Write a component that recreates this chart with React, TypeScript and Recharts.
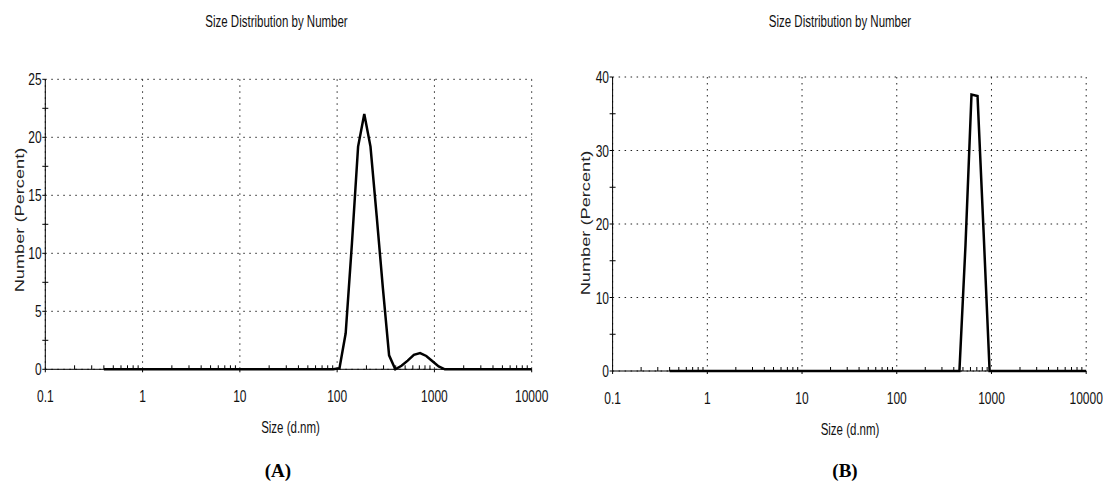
import React from "react";
import { LineChart, Line, XAxis, YAxis, CartesianGrid } from "recharts";

// size bins (d.nm), shared by both measurements
const sizes = [
  0.4, 0.4632, 0.5365, 0.6213, 0.7195, 0.8332, 0.9649, 1.117, 1.294, 1.499,
  1.736, 2.01, 2.328, 2.696, 3.122, 3.615, 4.187, 4.849, 5.615, 6.503,
  7.531, 8.721, 10.1, 11.7, 13.54, 15.69, 18.17, 21.04, 24.36, 28.21,
  32.67, 37.84, 43.82, 50.75, 58.77, 68.06, 78.82, 91.28, 105.7, 122.4,
  141.8, 164.2, 190.1, 220.2, 255.0, 295.3, 342.0, 396.1, 458.7, 531.2,
  615.1, 712.4, 825.0, 955.4, 1106, 1281, 1484, 1718, 1990, 2305,
  2669, 3091, 3580, 4145, 4801, 5560, 6439, 7456, 8635, 10000,
];

// Number (Percent), sample A
const numberA = [
  0, 0, 0, 0, 0, 0, 0, 0, 0, 0,
  0, 0, 0, 0, 0, 0, 0, 0, 0, 0,
  0, 0, 0, 0, 0, 0, 0, 0, 0, 0,
  0, 0, 0, 0, 0, 0, 0, 0, 0.1, 3.1,
  10.8, 19.2, 22.0, 19.2, 13.2, 7.0, 1.2, 0, 0.3, 0.75,
  1.25, 1.4, 1.15, 0.7, 0.25, 0, 0, 0, 0, 0,
  0, 0, 0, 0, 0, 0, 0, 0, 0, 0,
];

// Number (Percent), sample B
const numberB = [
  0, 0, 0, 0, 0, 0, 0, 0, 0, 0,
  0, 0, 0, 0, 0, 0, 0, 0, 0, 0,
  0, 0, 0, 0, 0, 0, 0, 0, 0, 0,
  0, 0, 0, 0, 0, 0, 0, 0, 0, 0,
  0, 0, 0, 0, 0, 0, 0, 0, 0, 17,
  37.6, 37.4, 19, 0, 0, 0, 0, 0, 0, 0,
  0, 0, 0, 0, 0, 0, 0, 0, 0, 0,
];

const xTicks = [0.1, 1, 10, 100, 1000, 10000];
const minorSteps = [2, 3, 4, 5, 6, 7, 8, 9];
const xMinor = xTicks.slice(0, -1).flatMap((d) => minorSteps.map((m) => +(d * m).toPrecision(3)));
const xAll = [...xTicks, ...xMinor].sort((a, b) => a - b);

const yTicksA = [0, 5, 10, 15, 20, 25];
const yMinorA = [2.5, 7.5, 12.5, 17.5, 22.5];
const yTicksB = [0, 10, 20, 30, 40];
const yMinorB = [5, 15, 25, 35];

const FONT = "'Liberation Sans', Arial, sans-serif";
const STRETCH = 1.42; // the source graphs are stretched vertically

const dataA = sizes.map((s, i) => ({ size: s, value: numberA[i] }));
const dataB = sizes.map((s, i) => ({ size: s, value: numberB[i] }));

function XTick({ x, y, payload }: any) {
  const major = xTicks.includes(payload.value);
  if (!major) {
    return <line x1={x} x2={x} y1={y} y2={y - 4} stroke="#000" strokeWidth={1} />;
  }
  return (
    <g>
      <line x1={x} x2={x} y1={y} y2={y + 3} stroke="#000" strokeWidth={1} />
      <g transform={`translate(${x},${y + 33})`}>
        <text textAnchor="middle" transform={`scale(1,${STRETCH})`} fontSize={12} fill="#111" fontFamily={FONT}>
          {payload.value}
        </text>
      </g>
    </g>
  );
}

function makeYTick(majors: number[]) {
  return function YTick({ x, y, payload }: any) {
    if (!majors.includes(payload.value)) {
      return <line x1={x - 3} x2={x + 3} y1={y} y2={y} stroke="#000" strokeWidth={1} />;
    }
    return (
      <g>
        <line x1={x - 3} x2={x} y1={y} y2={y} stroke="#000" strokeWidth={1} />
        <g transform={`translate(${x - 3.6},${y + 6})`}>
          <text textAnchor="end" transform={`scale(1,${STRETCH})`} fontSize={12} fill="#111" fontFamily={FONT}>
            {payload.value}
          </text>
        </g>
      </g>
    );
  };
}

interface PanelProps {
  data: { size: number; value: number }[];
  left: number;
  width: number;
  yMax: number;
  yTicks: number[];
  yMinor: number[];
  margin: { top: number; right: number; bottom: number; left: number };
  yWidth: number;
  titleX: number;
  yLabelX: number;
  yLabelY: number;
  xLabelX: number;
  xLabelY: number;
  caption: string;
  captionX: number;
}

function Panel(p: PanelProps) {
  const YTick = makeYTick(p.yTicks);
  const yAll = [...p.yTicks, ...p.yMinor].sort((a, b) => a - b);
  return (
    <div style={{ position: "absolute", left: p.left, top: 0, width: p.width, height: 491 }}>
      <LineChart width={p.width} height={491} data={p.data} margin={p.margin} style={{ overflow: "visible" }}>
        <CartesianGrid
          stroke="#222"
          strokeDasharray="1.5 4.5"
          verticalValues={xTicks}
          horizontalValues={p.yTicks}
        />
        <XAxis
          dataKey="size"
          type="number"
          scale="log"
          domain={[0.1, 10000]}
          ticks={xAll}
          height={30}
          tickSize={0}
          tickMargin={0}
          tickLine={false}
          tick={<XTick />}
          stroke="#000"
          interval={0}
        />
        <YAxis
          type="number"
          domain={[0, p.yMax]}
          ticks={yAll}
          width={p.yWidth}
          tickSize={0}
          tickMargin={0}
          tickLine={false}
          tick={<YTick />}
          stroke="#000"
          interval={0}
        />
        <Line
          dataKey="value"
          type="linear"
          stroke="#000"
          strokeWidth={2.5}
          dot={false}
          isAnimationActive={false}
        />
      </LineChart>
      <svg width={p.width} height={491} style={{ position: "absolute", left: 0, top: 0, pointerEvents: "none" }}>
        <text
          transform={`translate(${p.titleX},27) scale(1,${STRETCH})`}
          textAnchor="middle"
          fontSize={11.5}
          fontFamily={FONT}
          fill="#111"
        >
          Size Distribution by Number
        </text>
        <text
          transform={`translate(${p.yLabelX},${p.yLabelY}) rotate(-90) scale(1.35,1)`}
          textAnchor="middle"
          fontSize={13.5}
          fontFamily={FONT}
          fill="#222"
        >
          Number (Percent)
        </text>
        <text
          transform={`translate(${p.xLabelX},${p.xLabelY}) scale(1,${STRETCH})`}
          textAnchor="middle"
          fontSize={11.5}
          fontFamily={FONT}
          fill="#111"
        >
          Size (d.nm)
        </text>
        <text
          x={p.captionX}
          y={477}
          textAnchor="middle"
          fontSize={19}
          fontWeight="bold"
          fontFamily="'Liberation Serif', 'Times New Roman', serif"
          fill="#000"
        >
          {p.caption}
        </text>
      </svg>
    </div>
  );
}

export default function App() {
  return (
    <div style={{ position: "absolute", left: 0, top: 0, width: 1103, height: 491, background: "#fff", overflow: "hidden" }}>
      <Panel
        data={dataA}
        left={0}
        width={550}
        yMax={25}
        yTicks={yTicksA}
        yMinor={yMinorA}
        yWidth={45.3}
        margin={{ top: 79.3, right: 18.3, bottom: 91.7, left: 0 }}
        titleX={276.5}
        yLabelX={24}
        yLabelY={220}
        xLabelX={290.5}
        xLabelY={433}
        caption="(A)"
        captionX={278}
      />
      <Panel
        data={dataB}
        left={550}
        width={553}
        yMax={40}
        yTicks={yTicksB}
        yMinor={yMinorB}
        yWidth={62.6}
        margin={{ top: 77, right: 16.8, bottom: 90, left: 0 }}
        titleX={290}
        yLabelX={40}
        yLabelY={223}
        xLabelX={300}
        xLabelY={435}
        caption="(B)"
        captionX={295}
      />
    </div>
  );
}
